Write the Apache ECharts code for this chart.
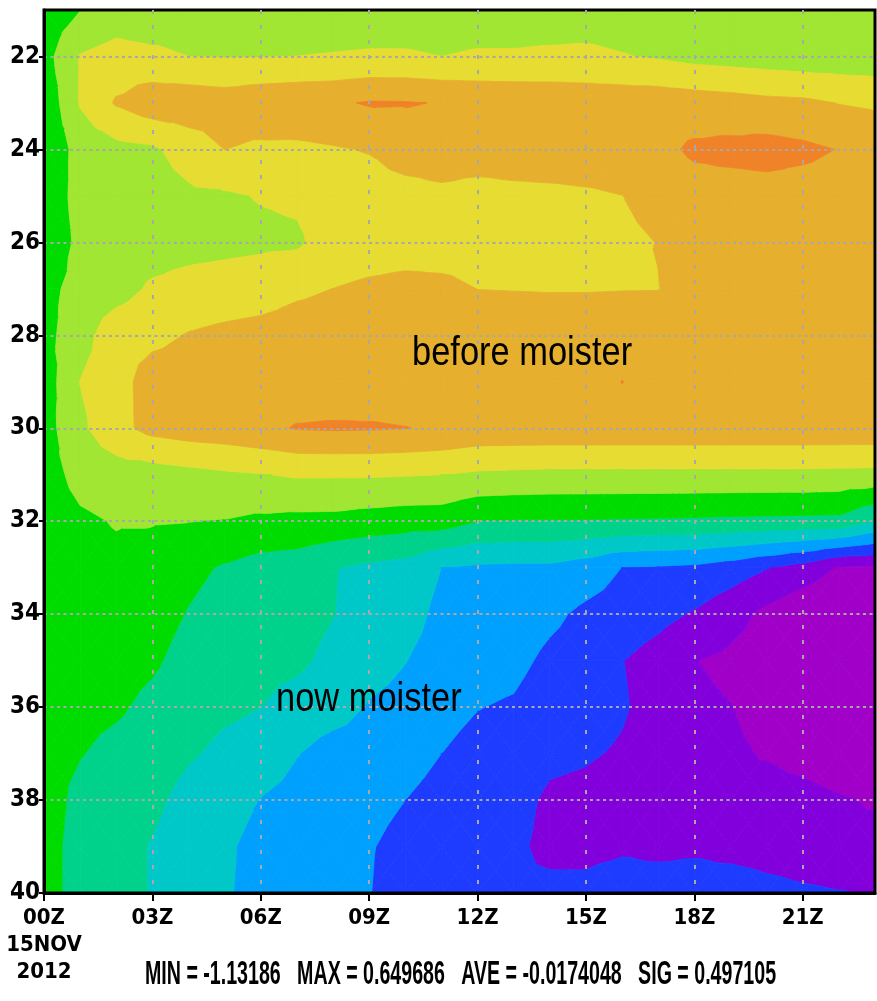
<!DOCTYPE html>
<html>
<head>
<meta charset="utf-8">
<script src="https://cdn.jsdelivr.net/npm/echarts@6/dist/echarts.min.js"></script>
<style>
html,body{margin:0;padding:0;background:#fff;}
#chart{width:877px;height:1001px;}
</style>
</head>
<body>
<div id="chart"></div>
<script>
// ---------- data ----------
const hourLabels = ['00Z','01Z','02Z','03Z','04Z','05Z','06Z','07Z','08Z','09Z','10Z','11Z',
                    '12Z','13Z','14Z','15Z','16Z','17Z','18Z','19Z','20Z','21Z','22Z','23Z'];
const heightLabels = ['21','22','23','24','25','26','27','28','29','30',
                      '31','32','33','34','35','36','37','38','39','40'];
const dateLabel = '15NOV\n2012';
const contourLevels = [-0.9, -0.75, -0.6, -0.45, -0.3, -0.15, 0, 0.15, 0.3, 0.45];
const bandColors = ['rgb(160,0,200)','rgb(130,0,220)','rgb(30,60,255)','rgb(0,160,255)',
                    'rgb(0,200,200)','rgb(0,210,140)','rgb(0,220,0)','rgb(160,230,50)',
                    'rgb(230,220,50)','rgb(230,175,45)','rgb(240,130,40)'];

const z21 = [-0.09, -0.004, 0.06, 0.03, 0.045, 0.048, 0.058, 0.062, 0.07, 0.076, 0.074, 0.072, 0.077, 0.08, 0.078, 0.076, 0.07, 0.06, 0.05, 0.046, 0.044, 0.044, 0.045, 0.045];
const z22 = [-0.06, 0.159, 0.21, 0.188, 0.15, 0.143, 0.146, 0.151, 0.158, 0.165, 0.165, 0.15, 0.165, 0.165, 0.173, 0.18, 0.158, 0.135, 0.105, 0.09, 0.075, 0.06, 0.057, 0.053];
const z23 = [-0.12, 0.162, 0.315, 0.39, 0.396, 0.378, 0.405, 0.42, 0.428, 0.462, 0.459, 0.444, 0.42, 0.413, 0.405, 0.39, 0.39, 0.39, 0.375, 0.36, 0.339, 0.33, 0.296, 0.278];
const z24 = [-0.135, 0.06, 0.105, 0.128, 0.215, 0.301, 0.272, 0.269, 0.288, 0.308, 0.372, 0.375, 0.373, 0.376, 0.378, 0.38, 0.38, 0.413, 0.473, 0.488, 0.503, 0.48, 0.446, 0.405];
const z25 = [-0.117, 0.06, 0.075, 0.083, 0.123, 0.132, 0.158, 0.173, 0.225, 0.233, 0.243, 0.27, 0.248, 0.263, 0.27, 0.281, 0.299, 0.36, 0.39, 0.39, 0.393, 0.39, 0.383, 0.375];
const z26 = [-0.125, 0.038, 0.06, 0.075, 0.09, 0.105, 0.12, 0.128, 0.218, 0.233, 0.24, 0.24, 0.24, 0.24, 0.248, 0.255, 0.263, 0.304, 0.375, 0.39, 0.39, 0.39, 0.39, 0.383];
const z27 = [-0.047, 0.053, 0.09, 0.173, 0.21, 0.225, 0.24, 0.278, 0.301, 0.323, 0.338, 0.33, 0.299, 0.296, 0.293, 0.293, 0.296, 0.297, 0.375, 0.39, 0.39, 0.39, 0.39, 0.383];
const z28 = [-0.048, 0.09, 0.24, 0.263, 0.308, 0.33, 0.345, 0.36, 0.368, 0.375, 0.375, 0.375, 0.375, 0.375, 0.383, 0.383, 0.383, 0.39, 0.39, 0.39, 0.39, 0.39, 0.39, 0.39];
const z29 = [-0.083, 0.153, 0.24, 0.368, 0.375, 0.383, 0.383, 0.383, 0.375, 0.383, 0.383, 0.383, 0.383, 0.383, 0.383, 0.39, 0.452, 0.39, 0.39, 0.39, 0.39, 0.39, 0.39, 0.39];
const z30 = [-0.065, 0.12, 0.255, 0.345, 0.375, 0.39, 0.42, 0.458, 0.465, 0.462, 0.453, 0.435, 0.405, 0.405, 0.405, 0.405, 0.405, 0.405, 0.405, 0.405, 0.405, 0.405, 0.405, 0.405];
const z31 = [-0.062, 0.045, 0.075, 0.081, 0.105, 0.128, 0.143, 0.165, 0.165, 0.165, 0.158, 0.15, 0.128, 0.12, 0.113, 0.113, 0.113, 0.113, 0.113, 0.113, 0.113, 0.113, 0.108, 0.105];
const z32 = [-0.083, -0.023, 0.008, 0.008, 0.003, -0.006, -0.03, -0.041, -0.044, -0.065, -0.081, -0.084, -0.149, -0.158, -0.158, -0.161, -0.165, -0.168, -0.173, -0.18, -0.183, -0.188, -0.192, -0.299];
const z33 = [-0.083, -0.045, -0.03, -0.06, -0.113, -0.165, -0.21, -0.225, -0.293, -0.33, -0.36, -0.45, -0.473, -0.48, -0.48, -0.525, -0.6, -0.615, -0.63, -0.675, -0.743, -0.81, -0.915, -0.93];
const z34 = [-0.083, -0.06, -0.06, -0.09, -0.158, -0.21, -0.24, -0.255, -0.297, -0.36, -0.39, -0.488, -0.51, -0.518, -0.57, -0.63, -0.66, -0.705, -0.764, -0.842, -0.938, -1.02, -1.05, -1.065];
const z35 = [-0.09, -0.075, -0.09, -0.128, -0.203, -0.24, -0.27, -0.278, -0.33, -0.39, -0.446, -0.51, -0.548, -0.563, -0.63, -0.668, -0.746, -0.81, -0.896, -0.932, -0.975, -1.08, -1.11, -1.125];
const z36 = [-0.09, -0.105, -0.128, -0.188, -0.24, -0.278, -0.3, -0.344, -0.383, -0.462, -0.495, -0.555, -0.596, -0.615, -0.675, -0.698, -0.735, -0.81, -0.87, -0.897, -0.96, -1.095, -1.125, -1.13186];
const z37 = [-0.09, -0.143, -0.195, -0.233, -0.285, -0.33, -0.345, -0.443, -0.518, -0.525, -0.548, -0.6, -0.645, -0.66, -0.72, -0.735, -0.765, -0.825, -0.848, -0.87, -0.915, -0.975, -1.05, -1.08];
const z38 = [-0.074, -0.195, -0.233, -0.27, -0.345, -0.39, -0.455, -0.51, -0.555, -0.57, -0.6, -0.645, -0.675, -0.705, -0.773, -0.788, -0.825, -0.833, -0.833, -0.855, -0.825, -0.825, -0.878, -0.923];
const z39 = [-0.09, -0.21, -0.248, -0.309, -0.375, -0.428, -0.495, -0.54, -0.585, -0.593, -0.63, -0.668, -0.69, -0.728, -0.78, -0.803, -0.78, -0.81, -0.788, -0.825, -0.833, -0.848, -0.855, -0.818];
const z40 = [-0.09, -0.21, -0.255, -0.308, -0.383, -0.435, -0.495, -0.548, -0.593, -0.597, -0.645, -0.675, -0.698, -0.735, -0.72, -0.698, -0.645, -0.63, -0.638, -0.623, -0.69, -0.723, -0.743, -0.758];
const field = [z21, z22, z23, z24, z25, z26, z27, z28, z29, z30, z31, z32, z33, z34, z35, z36, z37, z38, z39, z40];

const statNames = ['MIN', 'MAX', 'AVE', 'SIG'];
const statValues = ['-1.13186', '0.649686', '-0.0174048', '0.497105'];
const noteTexts = ['before moister', 'now moister'];

// ---------- contour fill helpers ----------
function clipPoly(pts, t, keepAbove) {
  const out = [];
  const n = pts.length;
  for (let k = 0; k < n; k++) {
    const a = pts[k], b = pts[(k + 1) % n];
    const ina = keepAbove ? a[2] >= t : a[2] <= t;
    const inb = keepAbove ? b[2] >= t : b[2] <= t;
    if (ina) out.push(a);
    if (ina !== inb) {
      const f = (t - a[2]) / (b[2] - a[2]);
      out.push([a[0] + f * (b[0] - a[0]), a[1] + f * (b[1] - a[1]), t]);
    }
  }
  return out;
}

function bandPolys(tri, children) {
  const vs = tri.map(p => p[2]);
  const vmin = Math.min.apply(null, vs), vmax = Math.max.apply(null, vs);
  for (let k = 0; k < bandColors.length; k++) {
    const lo = k > 0 ? contourLevels[k - 1] : -Infinity;
    const hi = k < contourLevels.length ? contourLevels[k] : Infinity;
    if (lo > vmax || hi < vmin) continue;
    let poly = tri;
    if (lo > vmin) poly = clipPoly(poly, lo, true);
    if (poly.length >= 3 && hi < vmax) poly = clipPoly(poly, hi, false);
    if (poly.length < 3) continue;
    children.push({
      type: 'polygon',
      silent: true,
      shape: { points: poly.map(p => [p[0], p[1]]) },
      style: { fill: bandColors[k], stroke: bandColors[k], lineWidth: 0.8 }
    });
  }
}

const cells = [];
for (let j = 0; j < heightLabels.length - 1; j++) {
  for (let i = 0; i < hourLabels.length - 1; i++) cells.push([i, j]);
}

function renderCell(params, api) {
  const i = api.value(0), j = api.value(1);
  const a = api.coord([i, j]), b = api.coord([i + 1, j]);
  const c = api.coord([i + 1, j + 1]), d = api.coord([i, j + 1]);
  const p00 = [a[0], a[1], field[j][i]];
  const p10 = [b[0], b[1], field[j][i + 1]];
  const p11 = [c[0], c[1], field[j + 1][i + 1]];
  const p01 = [d[0], d[1], field[j + 1][i]];
  const m = [(a[0] + b[0] + c[0] + d[0]) / 4, (a[1] + b[1] + c[1] + d[1]) / 4,
             (p00[2] + p10[2] + p11[2] + p01[2]) / 4];
  const children = [];
  bandPolys([p00, p10, m], children);
  bandPolys([p10, p11, m], children);
  bandPolys([p11, p01, m], children);
  bandPolys([p01, p00, m], children);
  return { type: 'group', children: children };
}

// ---------- chart ----------
const labelFont = "'Liberation Sans Narrow', 'DejaVu Sans Condensed', 'Liberation Sans', sans-serif";
const chart = echarts.init(document.getElementById('chart'), null, { renderer: 'canvas' });

const statText = statNames.map((n, k) => n + ' = ' + statValues[k]).join('   ');

chart.setOption({
  animation: false,
  backgroundColor: '#ffffff',
  grid: {
    left: 44, top: 10, right: 2, bottom: 108,
    containLabel: false, outerBoundsMode: 'none',
    show: true, borderColor: '#000', borderWidth: 3, backgroundColor: 'transparent', z: 10
  },
  xAxis: {
    type: 'category', data: hourLabels, boundaryGap: false, z: 10,
    axisLine: { show: true, onZero: false, lineStyle: { color: '#000', width: 3 } },
    axisTick: { show: true, interval: (idx) => idx % 3 === 0, length: 8, lineStyle: { color: '#000', width: 2 } },
    axisLabel: {
      interval: (idx) => idx % 3 === 0,
      formatter: (val, idx) => idx === 0 ? val + '\n' + dateLabel : val,
      margin: 12, color: '#000', fontFamily: labelFont, fontWeight: 'bold', fontSize: 22, lineHeight: 27
    },
    splitLine: { show: true, interval: (idx) => idx % 3 === 0 && idx > 0,
      lineStyle: { color: '#a8a8a8', width: 2, type: [4, 11] } }
  },
  yAxis: {
    type: 'category', data: heightLabels, inverse: true, boundaryGap: false, z: 10,
    axisLine: { show: true, onZero: false, lineStyle: { color: '#000', width: 3 } },
    axisTick: { show: true, interval: (idx) => idx % 2 === 1, length: 5, lineStyle: { color: '#000', width: 2 } },
    axisLabel: {
      interval: (idx) => idx % 2 === 1,
      margin: 4, color: '#000', fontFamily: labelFont, fontWeight: 'bold', fontSize: 24
    },
    splitLine: { show: true, interval: (idx) => idx % 2 === 1 && idx < heightLabels.length - 1,
      lineStyle: { color: '#a8a8a8', width: 2, type: [3, 3.5] } }
  },
  series: [{
    type: 'custom',
    renderItem: renderCell,
    data: cells,
    encode: { x: 0, y: 1 },
    clip: true,
    silent: true,
    z: 1
  }],
  graphic: [
    { type: 'text', x: 412, y: 354, scaleX: 0.84, silent: true, z: 20,
      style: { text: noteTexts[0], fill: '#000', font: "41px 'Liberation Sans', Arial, sans-serif",
               textAlign: 'left', textVerticalAlign: 'middle' } },
    { type: 'text', x: 276, y: 700, scaleX: 0.84, silent: true, z: 20,
      style: { text: noteTexts[1], fill: '#000', font: "41px 'Liberation Sans', Arial, sans-serif",
               textAlign: 'left', textVerticalAlign: 'middle' } },
    { type: 'text', x: 145, y: 975, scaleX: 0.577, silent: true, z: 20,
      style: { text: statText, fill: '#000', font: "bold 34px 'Liberation Sans', Arial, sans-serif",
               textAlign: 'left', textVerticalAlign: 'middle' } }
  ]
});
</script>
</body>
</html>
